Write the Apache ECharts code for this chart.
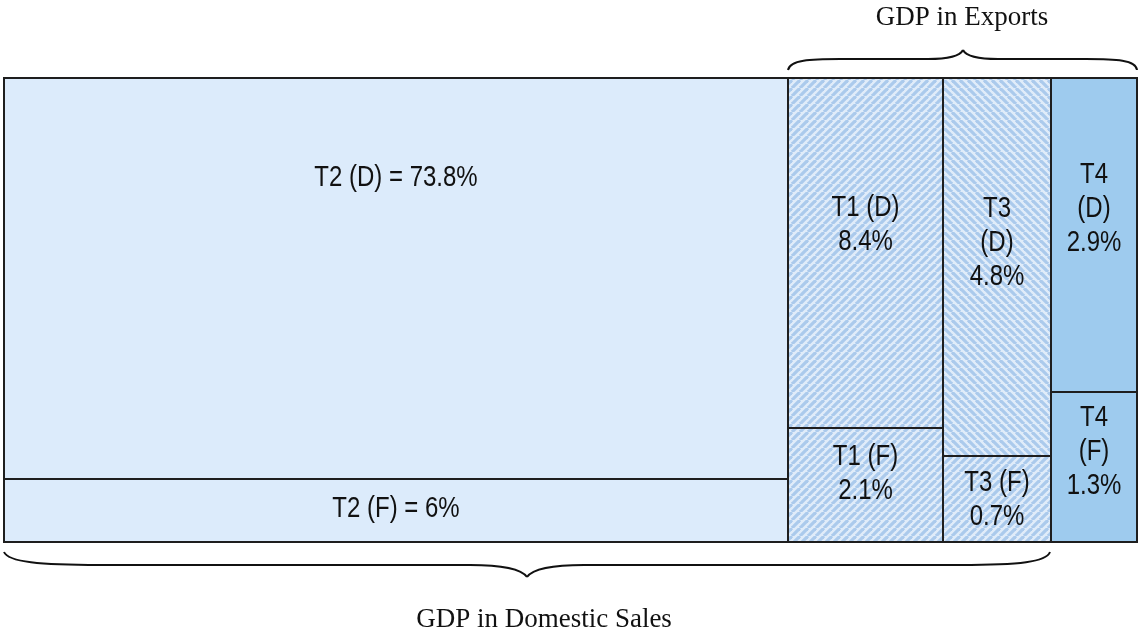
<!DOCTYPE html>
<html>
<head>
<meta charset="utf-8">
<style>
  html, body { margin: 0; padding: 0; background: #fff; }
  #chart-container { width: 1140px; height: 635px; }
</style>
<script src="https://cdn.jsdelivr.net/npm/echarts@6/dist/echarts.min.js"></script>
</head>
<body>
<div id="chart-container"></div>
<script>
// groups, left to right
var columns = ['T2', 'T1', 'T3', 'T4'];
var domesticShare = [73.8, 8.4, 4.8, 2.9];
var foreignShare = [6, 2.1, 0.7, 1.3];
// tile layout (layout units, not proportional to share)
var colWidths = [784, 155, 108, 86];
var foreignHeights = [63, 114, 86, 150];
var labelYD = [364, 317, 299, 333];
var labelYF = [33, 68, 42, 90];
var domesticFmt = ['{c} (D) = {v}%', '{c} (D)\n{v}%', '{c}\n(D)\n{v}%', '{c}\n(D)\n{v}%'];
var foreignFmt = ['{c} (F) = {v}%', '{c} (F)\n{v}%', '{c} (F)\n{v}%', '{c}\n(F)\n{v}%'];
var fillKind = ['plain', 'hatchA', 'hatchB', 'solid'];

var TOTAL_W = colWidths.reduce(function (a, b) { return a + b; }, 0);
var TOTAL_H = 464;

function makeHatch(dir) {
  var s = 8;
  var c = document.createElement('canvas');
  c.width = s; c.height = s;
  var ctx = c.getContext('2d');
  ctx.fillStyle = '#e0ecf9';
  ctx.fillRect(0, 0, s, s);
  ctx.strokeStyle = '#abcaec';
  ctx.lineWidth = 3.2;
  for (var k = -1; k <= 1; k++) {
    ctx.beginPath();
    if (dir > 0) {
      ctx.moveTo(k * s, s); ctx.lineTo(k * s + s, 0);
    } else {
      ctx.moveTo(k * s, 0); ctx.lineTo(k * s + s, s);
    }
    ctx.stroke();
  }
  return { image: c, repeat: 'repeat' };
}

var fills = {
  plain: '#dcebfb',
  hatchA: makeHatch(1),
  hatchB: makeHatch(-1),
  solid: '#9ecbee'
};

function fmt(t, c, v) {
  return t.replace('{c}', c).replace('{v}', v);
}

var tiles = [];
var x0 = 0;
columns.forEach(function (c, i) {
  var x1 = x0 + colWidths[i];
  var hatchF = fillKind[i] === 'hatchB' ? 'hatchA' : fillKind[i];
  tiles.push({ value: [x0, x1, foreignHeights[i], TOTAL_H, labelYD[i]], label: fmt(domesticFmt[i], c, domesticShare[i]), kind: fillKind[i] });
  tiles.push({ value: [x0, x1, 0, foreignHeights[i], labelYF[i]], label: fmt(foreignFmt[i], c, foreignShare[i]), kind: hatchF });
  x0 = x1;
});

// curly braces, as cubic pieces [x1,y1, cx1,cy1, cx2,cy2, x2,y2]
function brace(segs) {
  return segs.map(function (s) {
    return {
      type: 'bezierCurve',
      shape: { x1: s[0], y1: s[1], cpx1: s[2], cpy1: s[3], cpx2: s[4], cpy2: s[5], x2: s[6], y2: s[7] },
      style: { fill: null, stroke: '#111', lineWidth: 2 }
    };
  });
}

var topBrace = brace([
  [788, 70, 790, 60, 810, 59, 840, 59],
  [840, 59, 870, 59, 900, 59, 928, 59],
  [928, 59, 950, 59, 960, 56, 963, 50],
  [963, 50, 966, 56, 976, 59, 998, 59],
  [998, 59, 1030, 59, 1060, 59, 1086, 59],
  [1086, 59, 1116, 59, 1136, 60, 1137, 70]
]);
var bottomBrace = brace([
  [4, 552, 8, 562, 40, 565, 100, 565],
  [100, 565, 250, 565, 400, 565, 470, 565],
  [470, 565, 508, 565, 522, 570, 527, 577],
  [527, 577, 532, 570, 546, 565, 584, 565],
  [584, 565, 700, 565, 850, 565, 960, 565],
  [960, 565, 1020, 565, 1046, 562, 1050, 552]
]);

var dom = document.getElementById('chart-container');
var myChart = echarts.init(dom, null, { renderer: 'canvas' });

var option = {
  animation: false,
  grid: { left: 4, right: 3, top: 78, bottom: 93 },
  xAxis: { type: 'value', min: 0, max: TOTAL_W, show: false },
  yAxis: { type: 'value', min: 0, max: TOTAL_H, show: false },
  series: [{
    type: 'custom',
    data: tiles.map(function (t) { return t.value; }),
    renderItem: function (params, api) {
      var t = tiles[params.dataIndex];
      var p0 = api.coord([api.value(0), api.value(3)]);
      var p1 = api.coord([api.value(1), api.value(2)]);
      var cx = (p0[0] + p1[0]) / 2;
      var ly = api.coord([0, api.value(4)])[1];
      return {
        type: 'group',
        children: [{
          type: 'rect',
          shape: { x: p0[0], y: p0[1], width: p1[0] - p0[0], height: p1[1] - p0[1] },
          style: { fill: fills[t.kind], stroke: '#1e1e1e', lineWidth: 2 }
        }, {
          type: 'text',
          x: cx, y: ly,
          scaleY: 1.2,
          style: {
            text: t.label,
            x: 0, y: 0,
            align: 'center',
            verticalAlign: 'middle',
            font: '24px "Liberation Sans", Arial, sans-serif',
            lineHeight: 28.5,
            fill: '#111'
          }
        }]
      };
    }
  }],
  graphic: topBrace.concat(bottomBrace, [
    {
      type: 'text', x: 962, y: 18,
      style: { text: 'GDP in Exports', align: 'center', verticalAlign: 'middle', font: '27px "Liberation Serif", "Times New Roman", serif', fill: '#111' }
    },
    {
      type: 'text', x: 544, y: 620,
      style: { text: 'GDP in Domestic Sales', align: 'center', verticalAlign: 'middle', font: '27px "Liberation Serif", "Times New Roman", serif', fill: '#111' }
    }
  ])
};

myChart.setOption(option);
window.addEventListener('resize', myChart.resize);
</script>
</body>
</html>
